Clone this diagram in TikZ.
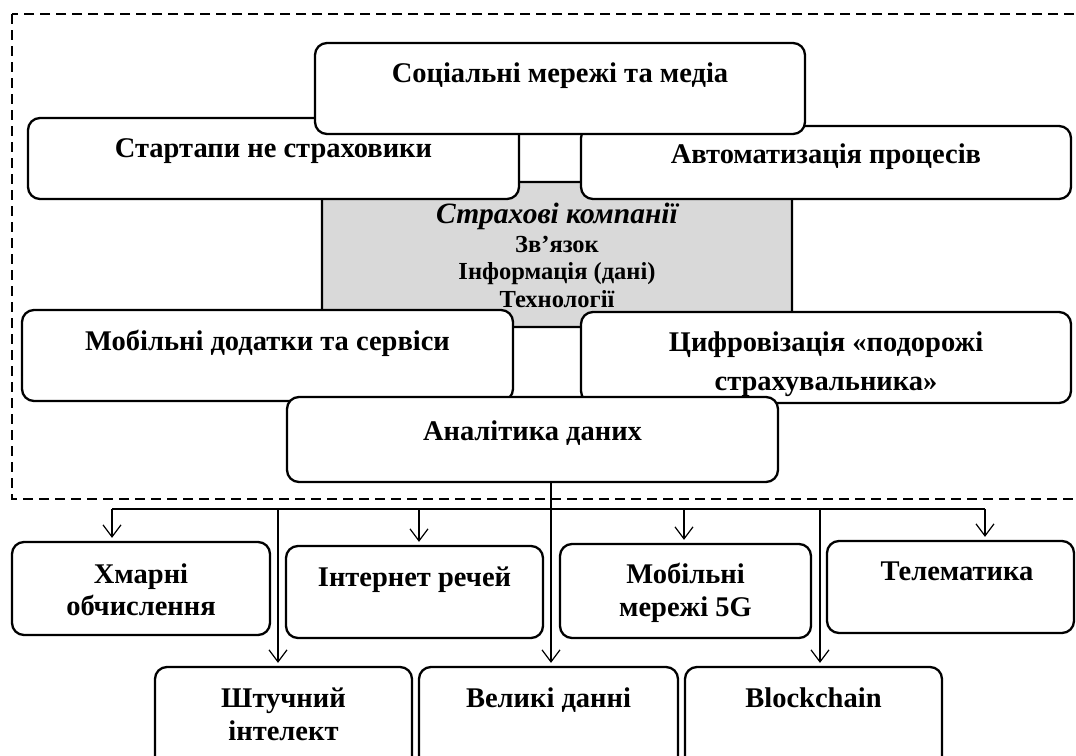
\documentclass[tikz,border=0pt]{standalone}
\usepackage{fontspec}
\setmainfont{Liberation Serif}
\usetikzlibrary{arrows.meta}
\begin{document}
\begin{tikzpicture}[x=1pt,y=-1pt,
  bx/.style={draw=black, line width=2.3pt, fill=white, rounded corners=12pt, inner sep=0pt},
  graybx/.style={bx, fill=gray!30},
  lbl/.style={font=\fontsize{28.5}{33}\selectfont\bfseries, anchor=base, align=center, inner sep=0pt},
  conn/.style={draw=black, line width=1.3pt},
  arr/.style={conn, -{Straight Barb[length=12pt,width=18pt,line width=1.2pt]}, shorten >=3pt}
]
\useasboundingbox (0,0) rectangle (1076,755);
\clip (0,0) rectangle (1076,755);
\fill[white] (0,0) rectangle (1076,755);
% frame
\draw[line width=2pt, dash pattern=on 10pt off 6pt] (12,14) rectangle (1090,499);
% central gray box
\node[graybx, minimum width=470pt, minimum height=145pt] (gray) at (557,254.5) {};
\node[font=\fontsize{29.5}{30}\selectfont\bfseries\itshape, anchor=base, inner sep=0pt] (grayt) at (557,223) {Страхові компанії};
\node[font=\fontsize{24.5}{27.5}\selectfont\bfseries, anchor=base, inner sep=0pt, align=center] (grayl) at (557,307) {Зв’язок\\Інформація (дані)\\Технології};
% surrounding boxes
\node[bx, minimum width=491pt, minimum height=81pt] (start) at (273.5,158.5) {};
\node[lbl] (startt) at (273.5,157) {Стартапи не страховики};
\node[bx, minimum width=490pt, minimum height=73pt] (avto) at (826,162.5) {};
\node[lbl] (avtot) at (826,163) {Автоматизація процесів};
\node[bx, minimum width=490pt, minimum height=91pt] (soc) at (560,88.5) {};
\node[lbl] (soct) at (560,82) {Соціальні мережі та медіа};
\node[bx, minimum width=491pt, minimum height=91pt] (mob) at (267.5,355.5) {};
\node[lbl] (mobt) at (267.5,350) {Мобільні додатки та сервіси};
\node[bx, minimum width=490pt, minimum height=91pt] (cyfr) at (826,357.5) {};
\node[lbl, font=\fontsize{28.5}{39}\selectfont\bfseries] (cyfrt) at (826,390) {Цифровізація «подорожі\\страхувальника»};
\node[bx, minimum width=491pt, minimum height=85pt] (anal) at (532.5,439.5) {};
\node[lbl] (analt) at (532.5,440) {Аналітика даних};
% technologies
\node[bx, minimum width=258pt, minimum height=93pt] (hmar) at (141,588.5) {};
\node[lbl, font=\fontsize{28.5}{32}\selectfont\bfseries] (hmart) at (141,615) {Хмарні\\обчислення};
\node[bx, minimum width=257pt, minimum height=92pt] (inet) at (414.5,592) {};
\node[lbl] (inett) at (414.5,586) {Інтернет речей};
\node[bx, minimum width=251pt, minimum height=94pt] (mobg) at (685.5,591) {};
\node[lbl] (mobgt) at (685.5,616) {Мобільні\\мережі 5G};
\node[bx, minimum width=247pt, minimum height=92pt] (tele) at (950.5,587) {};
\node[lbl] (telet) at (957,580) {Телематика};
\node[bx, minimum width=257pt, minimum height=103pt] (shtu) at (283.5,718.5) {};
\node[lbl] (shtut) at (283.5,740) {Штучний\\інтелект};
\node[bx, minimum width=259pt, minimum height=103pt] (vel) at (548.5,718.5) {};
\node[lbl] (velt) at (548.5,707) {Великі данні};
\node[bx, minimum width=257pt, minimum height=103pt] (blk) at (813.5,718.5) {};
\node[lbl] (blkt) at (813.5,707) {Blockchain};
% connectors
\coordinate (hub) at (551,509);
\coordinate (hl) at (112,509);
\coordinate (hr) at (985,509);
\coordinate (bs) at (278,509);
\coordinate (bb) at (820,509);
\draw[conn] (hl) -- (hr);
\draw[arr] (hl) -- (hl |- hmar.north);
\draw[arr] (hl -| 419,0) -- (419,0 |- inet.north);
\draw[arr] (hl -| 684,0) -- (684,0 |- mobg.north);
\draw[arr] (hr) -- (hr |- tele.north);
\draw[arr] (bs) -- (bs |- shtu.north);
\draw[arr] (bb) -- (bb |- blk.north);
\draw[arr] (hub |- anal.south) -- (hub |- vel.north);
\end{tikzpicture}
\end{document}
